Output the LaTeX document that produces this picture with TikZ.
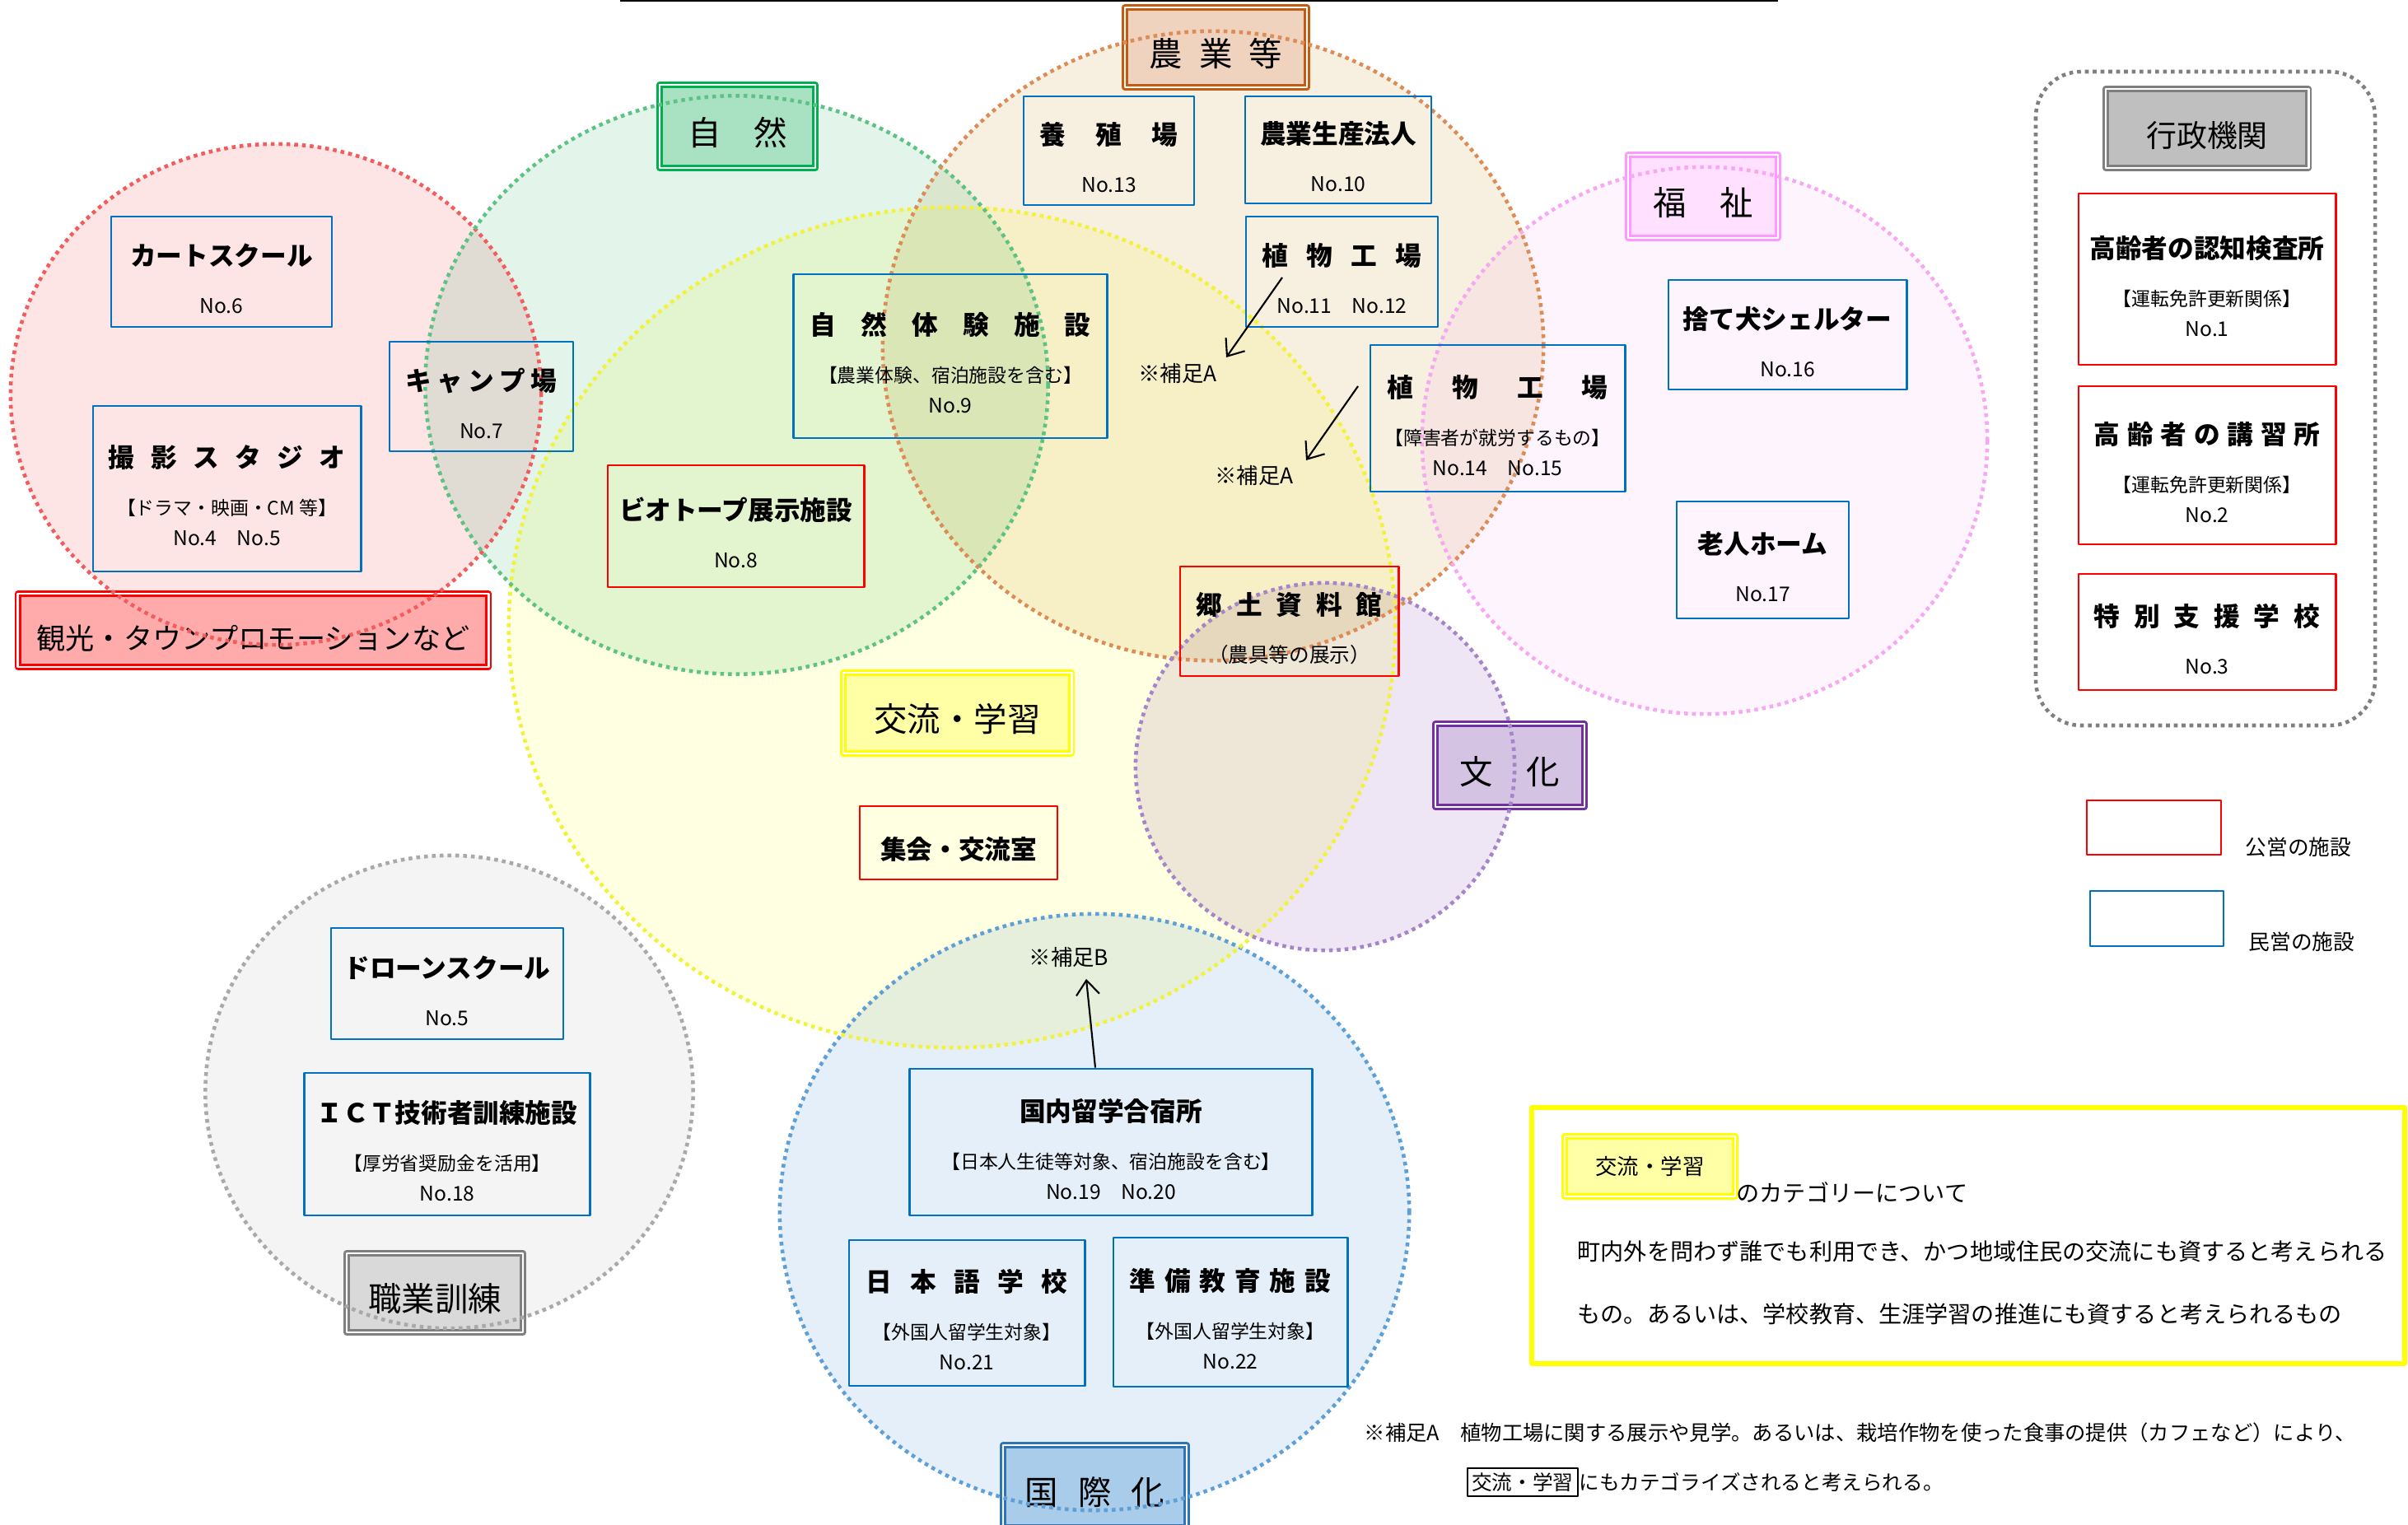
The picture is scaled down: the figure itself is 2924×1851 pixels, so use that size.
\documentclass[tikz,border=0pt]{standalone}
\usepackage{fontspec}
\setmainfont{Noto Sans CJK JP}
\usetikzlibrary{arrows.meta}

% zone colours
\definecolor{redfill}{HTML}{FDE5E5}\definecolor{redline}{HTML}{F25C5C}
\definecolor{greenfill}{HTML}{E3F5EB}\definecolor{greenline}{HTML}{5DC283}
\definecolor{orangefill}{HTML}{F7F0E1}\definecolor{orangeline}{HTML}{DC8C57}
\definecolor{yellowfill}{HTML}{FFFFE1}\definecolor{yellowline}{HTML}{F2F23C}
\definecolor{pinkfill}{HTML}{FEF4FE}\definecolor{pinkline}{HTML}{F7A8F2}
\definecolor{purplefill}{HTML}{EEE6F4}\definecolor{purpleline}{HTML}{A584C9}
\definecolor{bluefill}{HTML}{E5EFF9}\definecolor{blueline}{HTML}{5E9FD6}
\definecolor{grayfill}{HTML}{F4F4F4}\definecolor{grayline}{HTML}{A9A9A9}
% label colours
\definecolor{catred}{HTML}{FF0000}\definecolor{catredfill}{HTML}{FFABAB}
\definecolor{catgreen}{HTML}{00B050}\definecolor{catgreenfill}{HTML}{A9E2C3}
\definecolor{catorange}{HTML}{C55A11}\definecolor{catorangefill}{HTML}{F0D3BF}
\definecolor{catpink}{HTML}{FF99FF}\definecolor{catpinkfill}{HTML}{FFE1FF}
\definecolor{catgray}{HTML}{7F7F7F}\definecolor{catgrayfill}{HTML}{BFBFBF}
\definecolor{catgraylt}{HTML}{D9D9D9}
\definecolor{catyellow}{HTML}{FFFF00}\definecolor{catyellowfill}{HTML}{FFFFA6}
\definecolor{catpurple}{HTML}{7030A0}\definecolor{catpurplefill}{HTML}{D5C3E3}
\definecolor{catblue}{HTML}{2E75B6}\definecolor{catbluefill}{HTML}{A8CCEA}
% facility colours
\definecolor{privblue}{HTML}{0070C0}\definecolor{pubred}{HTML}{FF0000}

\newcommand\ttl[1]{{\rule{0pt}{12.5pt}\bfseries\fontsize{9pt}{10.5pt}\selectfont #1}}
\newcommand\nr[1]{{\fontsize{7pt}{10.5pt}\selectfont #1}}

\tikzset{
  fac/.style={draw=#1,line width=0.8pt,align=center,inner sep=0pt,font=\fontsize{6.5pt}{10.5pt}\selectfont},
  priv/.style={fac=privblue},
  pub/.style={fac=pubred},
  cat/.style 2 args={draw=#1,fill=#2,line width=0.7pt,double=white,double distance=0.8pt,inner sep=0pt,text height=13.8pt,text depth=1pt,font=\fontsize{11.5pt}{13pt}\selectfont},
  zone/.style={draw=#1,line width=1.3pt,dash pattern=on 1.3pt off 1.4pt},
  note/.style={inner sep=0pt,font=\fontsize{#1}{#1}\selectfont},
}

\begin{document}
\begin{tikzpicture}[x=0.01cm,y=-0.01cm,>={Straight Barb[length=5pt,width=8pt]},line join=round]
\useasboundingbox (0,0) rectangle (2924,1851);
\draw[line width=0.7pt] (753,1) -- (2159,1);

% zone fills
\begin{scope}[blend mode=multiply]
\fill[grayfill] (545.5,1326) ellipse [x radius=2.96cm,y radius=2.87cm];
\fill[bluefill] (1329,1472) ellipse [x radius=3.82cm,y radius=3.62cm];
\fill[yellowfill] (1156,762) ellipse [x radius=5.38cm,y radius=5.10cm];
\fill[redfill] (335,479) ellipse [x radius=3.22cm,y radius=3.04cm];
\fill[greenfill] (894.5,467.5) ellipse [x radius=3.78cm,y radius=3.51cm];
\fill[orangefill] (1473,420) ellipse [x radius=4.01cm,y radius=3.82cm];
\fill[pinkfill] (2070,535) ellipse [x radius=3.43cm,y radius=3.32cm];
\fill[purplefill] (1609,931) ellipse [x radius=2.30cm,y radius=2.23cm];
\end{scope}

% category labels
\node[cat={catred}{catredfill},minimum width=5.71cm,minimum height=0.89cm,font=\fontsize{10pt}{12pt}\selectfont] (kanko) at (307.5,765.5) {観光・タウンプロモーションなど};
\node[cat={catgreen}{catgreenfill},minimum width=1.89cm,minimum height=1.01cm] (shizen) at (895.5,153.5) {\makebox[1.2cm][s]{自 然}};
\node[cat={catorange}{catorangefill},minimum width=2.21cm,minimum height=0.97cm] (nogyo) at (1476.5,57.5) {\makebox[1.61cm][s]{農 業 等}};
\node[cat={catpink}{catpinkfill},minimum width=1.82cm,minimum height=1.01cm] (fukushi) at (2068,238.5) {\makebox[1.21cm][s]{福 祉}};
\node[cat={catgray}{catgrayfill},minimum width=2.46cm,minimum height=0.96cm,font=\fontsize{10.5pt}{12pt}\selectfont] (gyosei) at (2680,156) {行政機関};
\node[cat={catyellow}{catyellowfill},minimum width=2.77cm,minimum height=0.98cm] (koryu) at (1162.5,866) {交流・学習};
\node[cat={catpurple}{catpurplefill},minimum width=1.81cm,minimum height=1.01cm] (bunka) at (1833.5,929.5) {\makebox[1.21cm][s]{文 化}};
\node[cat={catblue}{catbluefill},minimum width=2.23cm,minimum height=1.0cm] (kokusai) at (1329.5,1805) {\makebox[1.69cm][s]{国 際 化}};
\node[cat={catgray}{catgraylt},minimum width=2.14cm,minimum height=0.96cm] (shokugyo) at (528,1570) {職業訓練};

% zone outlines
\draw[zone=grayline] (545.5,1326) ellipse [x radius=2.96cm,y radius=2.87cm];
\draw[zone=blueline] (1329,1472) ellipse [x radius=3.82cm,y radius=3.62cm];
\draw[zone=yellowline] (1156,762) ellipse [x radius=5.38cm,y radius=5.10cm];
\draw[zone=redline] (335,479) ellipse [x radius=3.22cm,y radius=3.04cm];
\draw[zone=greenline] (894.5,467.5) ellipse [x radius=3.78cm,y radius=3.51cm];
\draw[zone=orangeline] (1473,420) ellipse [x radius=4.01cm,y radius=3.82cm];
\draw[zone=pinkline] (2070,535) ellipse [x radius=3.43cm,y radius=3.32cm];
\draw[zone=purpleline] (1609,931) ellipse [x radius=2.30cm,y radius=2.23cm];
\draw[zone=catgray,rounded corners=0.55cm] (2472,87) rectangle (2884,881);

% facilities
\node[priv,minimum width=2.68cm,minimum height=1.34cm] (kart) at (269,330) {\ttl{カートスクール}\\[6pt]\nr{No.6}};
\node[priv,minimum width=2.23cm,minimum height=1.33cm] (camp) at (584.5,481.5) {\ttl{\makebox[1.83cm][s]{キ ャ ン プ 場}}\\[6pt]\nr{No.7}};
\node[priv,minimum width=3.25cm,minimum height=2.01cm] (studio) at (275.5,593.5) {\ttl{\makebox[2.87cm][s]{撮 影 ス タ ジ オ}}\\[6pt]【ドラマ・映画・CM 等】\\\nr{No.4\quad No.5}};
\node[pub,minimum width=3.11cm,minimum height=1.48cm] (biotope) at (893.5,639) {\ttl{ビオトープ展示施設}\\[6pt]\nr{No.8}};
\node[priv,minimum width=3.80cm,minimum height=1.99cm] (taiken) at (1154,432.5) {\ttl{\makebox[3.41cm][s]{自 然 体 験 施 設}}\\[6pt]【農業体験、宿泊施設を含む】\\\nr{No.9}};
\node[priv,minimum width=2.07cm,minimum height=1.32cm] (yoshoku) at (1346.5,183) {\ttl{\makebox[1.67cm][s]{養 殖 場}}\\[6pt]\nr{No.13}};
\node[priv,minimum width=2.26cm,minimum height=1.30cm] (hojin) at (1625,182) {\ttl{農業生産法人}\\[6pt]\nr{No.10}};
\node[priv,minimum width=2.33cm,minimum height=1.34cm] (plantA) at (1629.5,330) {\ttl{\makebox[1.93cm][s]{植 物 工 場}}\\[6pt]\nr{No.11\quad No.12}};
\node[priv,minimum width=3.09cm,minimum height=1.78cm] (plantB) at (1818.5,508) {\ttl{\makebox[2.68cm][s]{植 物 工 場}}\\[6pt]【障害者が就労するもの】\\\nr{No.14\quad No.15}};
\node[pub,minimum width=2.65cm,minimum height=1.33cm] (kyodo) at (1565.5,754.5) {\ttl{\makebox[2.25cm][s]{郷 土 資 料 館}}\\[6pt]\nr{（農具等の展示）}};
\node[priv,minimum width=2.89cm,minimum height=1.33cm] (shelter) at (2170.5,406.5) {\ttl{捨て犬シェルター}\\[6pt]\nr{No.16}};
\node[priv,minimum width=2.09cm,minimum height=1.42cm] (rojin) at (2140.5,680) {\ttl{老人ホーム}\\[6pt]\nr{No.17}};
\node[pub,minimum width=2.40cm,minimum height=0.89cm] (shukai) at (1164,1023.5) {\ttl{集会・交流室}};
\node[priv,minimum width=2.82cm,minimum height=1.35cm] (drone) at (543,1194.5) {\ttl{ドローンスクール}\\[6pt]\nr{No.5}};
\node[priv,minimum width=3.46cm,minimum height=1.73cm] (ict) at (543,1389.5) {\ttl{ＩＣＴ技術者訓練施設}\\[6pt]【厚労省奨励金を活用】\\\nr{No.18}};
\node[priv,minimum width=4.88cm,minimum height=1.78cm] (ryugaku) at (1349,1387) {\ttl{国内留学合宿所}\\[6pt]【日本人生徒等対象、宿泊施設を含む】\\\nr{No.19\quad No.20}};
\node[priv,minimum width=2.86cm,minimum height=1.77cm] (nihongo) at (1174,1594.5) {\ttl{\makebox[2.44cm][s]{日 本 語 学 校}}\\[6pt]【外国人留学生対象】\\\nr{No.21}};
\node[priv,minimum width=2.84cm,minimum height=1.81cm] (junbi) at (1494,1593.5) {\ttl{\makebox[2.44cm][s]{準 備 教 育 施 設}}\\[6pt]【外国人留学生対象】\\\nr{No.22}};
\node[pub,minimum width=3.12cm,minimum height=2.08cm] (ninchi) at (2680,339) {\ttl{高齢者の認知検査所}\\[6pt]【運転免許更新関係】\\\nr{No.1}};
\node[pub,minimum width=3.12cm,minimum height=1.92cm] (koshu) at (2680,565) {\ttl{\makebox[2.74cm][s]{高 齢 者 の 講 習 所}}\\[6pt]【運転免許更新関係】\\\nr{No.2}};
\node[pub,minimum width=3.12cm,minimum height=1.41cm] (shien) at (2680,767.5) {\ttl{\makebox[2.74cm][s]{特 別 支 援 学 校}}\\[6pt]\nr{No.3}};

% supplements
\node[note=7.5pt] (hosokuA1) at (1430,453) {※補足A};
\node[note=7.5pt] (hosokuA2) at (1523,577) {※補足A};
\node[note=7.5pt] (hosokuB) at (1298,1162) {※補足B};
\coordinate (a1s) at (1557,337);
\coordinate (a1e) at (1489,434);
\coordinate (a2s) at (1649,469);
\coordinate (a2e) at (1586,559);
\draw[->,line width=0.6pt] (a1s) -- (a1e);
\draw[->,line width=0.6pt] (a2s) -- (a2e);
\draw[->,line width=0.6pt] ([xshift=-0.19cm]ryugaku.north) -- ([xshift=0.21cm,yshift=-0.14cm]hosokuB.south);

% legend
\node[pub,minimum width=1.63cm,minimum height=0.66cm] (legpub) at (2615.5,1005) {};
\node[priv,minimum width=1.62cm,minimum height=0.67cm] (legpriv) at (2619,1115.5) {};
\node[note=7.3pt,anchor=west] (legpubtxt) at (2726,1029) {公営の施設};
\node[note=7.3pt,anchor=west] (legprivtxt) at (2730,1144) {民営の施設};

% explanation box
\draw[catyellow,line width=1.5pt] (1860,1345) rectangle (2920,1656);
\node[cat={catyellow}{catyellowfill},minimum width=2.07cm,minimum height=0.73cm,text height=6.6pt,text depth=0.9pt,font=\fontsize{7.5pt}{8pt}\selectfont] (koryusmall) at (2003.5,1416.5) {交流・学習};
\node[note=8pt,anchor=west] (cattxt) at (2108,1448) {のカテゴリーについて};
\node[note=8pt,anchor=west] (expl1) at (1915,1520) {町内外を問わず誰でも利用でき、かつ地域住民の交流にも資すると考えられる};
\node[note=8pt,anchor=west] (expl2) at (1915,1596) {もの。あるいは、学校教育、生涯学習の推進にも資すると考えられるもの};

% footnote
\node[note=7.2pt,anchor=west] (foot1) at (1656,1740) {※補足A\quad 植物工場に関する展示や見学。あるいは、栽培作物を使った食事の提供（カフェなど）により、};
\node[draw,line width=0.6pt,inner sep=1.5pt,anchor=west,font=\fontsize{7pt}{7pt}\selectfont] (footbox) at (1781,1800) {交流・学習};
\node[note=7pt,anchor=west] (foot2) at (footbox.east) {にもカテゴライズされると考えられる。};
\end{tikzpicture}
\end{document}
